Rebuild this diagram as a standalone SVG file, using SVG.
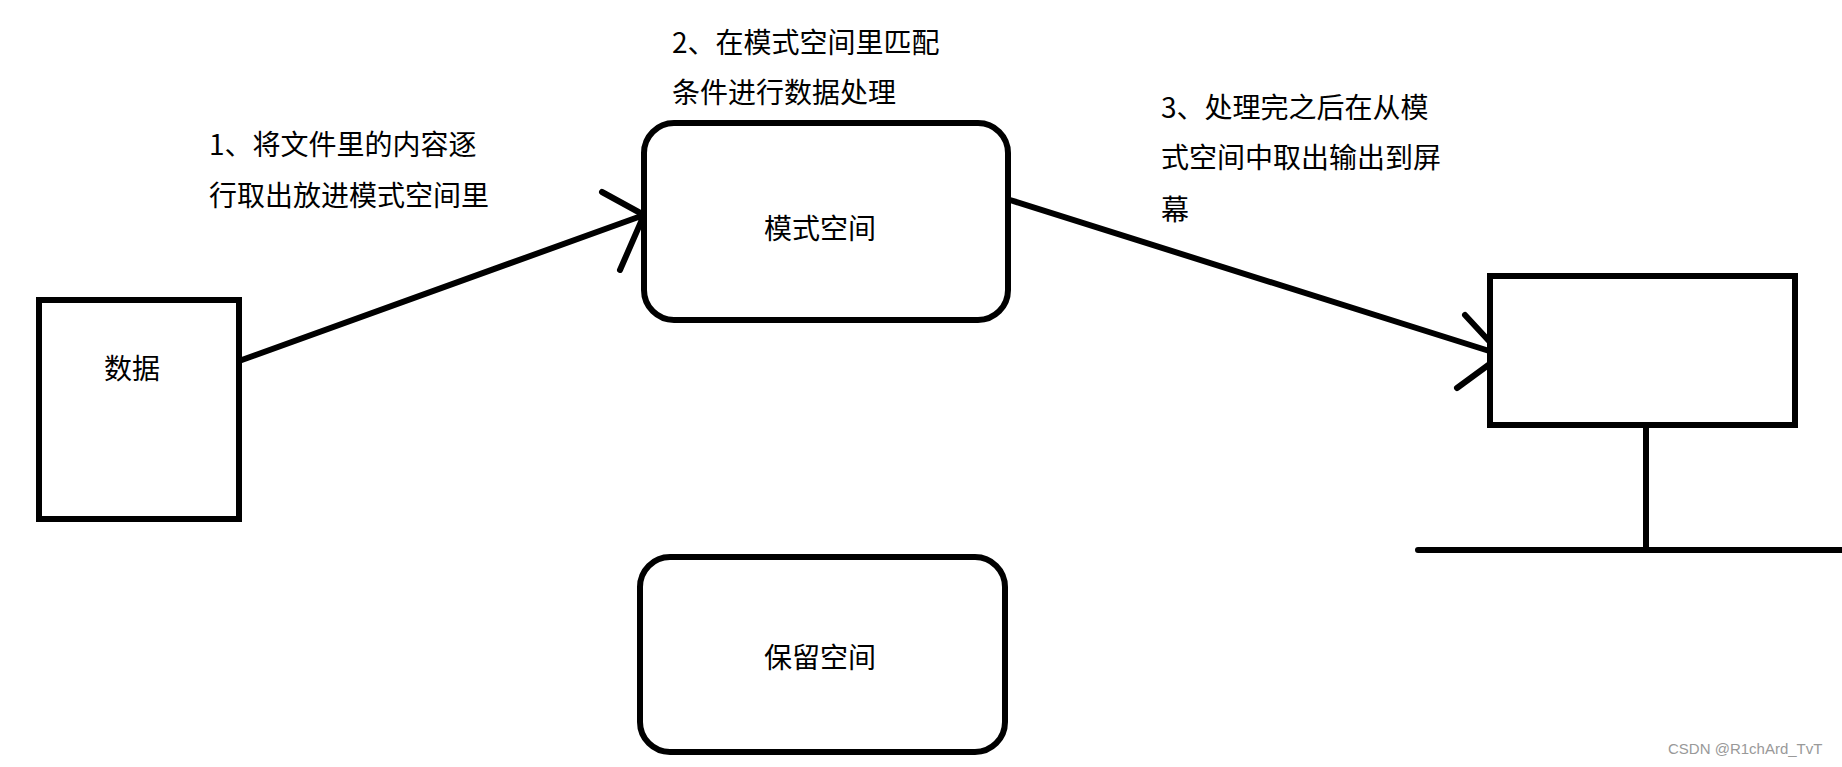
<svg xmlns="http://www.w3.org/2000/svg" width="1842" height="767" viewBox="0 0 1842 767">
<style>
.box{fill:#fff;stroke:#000;stroke-width:6}
.ln{fill:none;stroke:#000;stroke-width:6;stroke-linecap:round;stroke-linejoin:round}
text{font-family:"Noto Sans CJK SC","Liberation Sans",sans-serif;font-size:28px;fill:#000}
.c{text-anchor:middle;dominant-baseline:central}
.wm{font-size:15px;fill:#999;font-family:"Liberation Sans",sans-serif}
</style>
<rect width="1842" height="767" fill="#fff"/>
<g id="connectors">
<path class="ln" d="M239 361 L644 215 M602 192 L644 215 L620 270"/>
<path class="ln" d="M1010 200 L1502 355 M1465 315 L1502 355 L1457 388"/>
</g>
<g id="data"><rect class="box" x="39" y="300" width="200" height="219"/><text class="c" x="132" y="367">数据</text></g>
<g id="pattern"><rect class="box" x="644" y="123" width="364" height="197" rx="30"/><text class="c" x="820" y="227">模式空间</text></g>
<g id="hold"><rect class="box" x="640" y="557" width="365" height="195" rx="30"/><text class="c" x="820" y="656">保留空间</text></g>
<g id="screen">
<rect class="box" x="1490" y="276" width="305" height="149"/>
<path class="ln" d="M1646 425 V550 M1418 550 H1842"/>
</g>
<g id="labels">
<text x="209" y="155">1、将文件里的内容逐</text>
<text x="209" y="206">行取出放进模式空间里</text>
<text x="672" y="53">2、在模式空间里匹配</text>
<text x="672" y="103">条件进行数据处理</text>
<text x="1161" y="118">3、处理完之后在从模</text>
<text x="1161" y="168">式空间中取出输出到屏</text>
<text x="1161" y="220">幕</text>
<text class="wm" x="1668" y="754">CSDN @R1chArd_TvT</text>
</g>
</svg>
